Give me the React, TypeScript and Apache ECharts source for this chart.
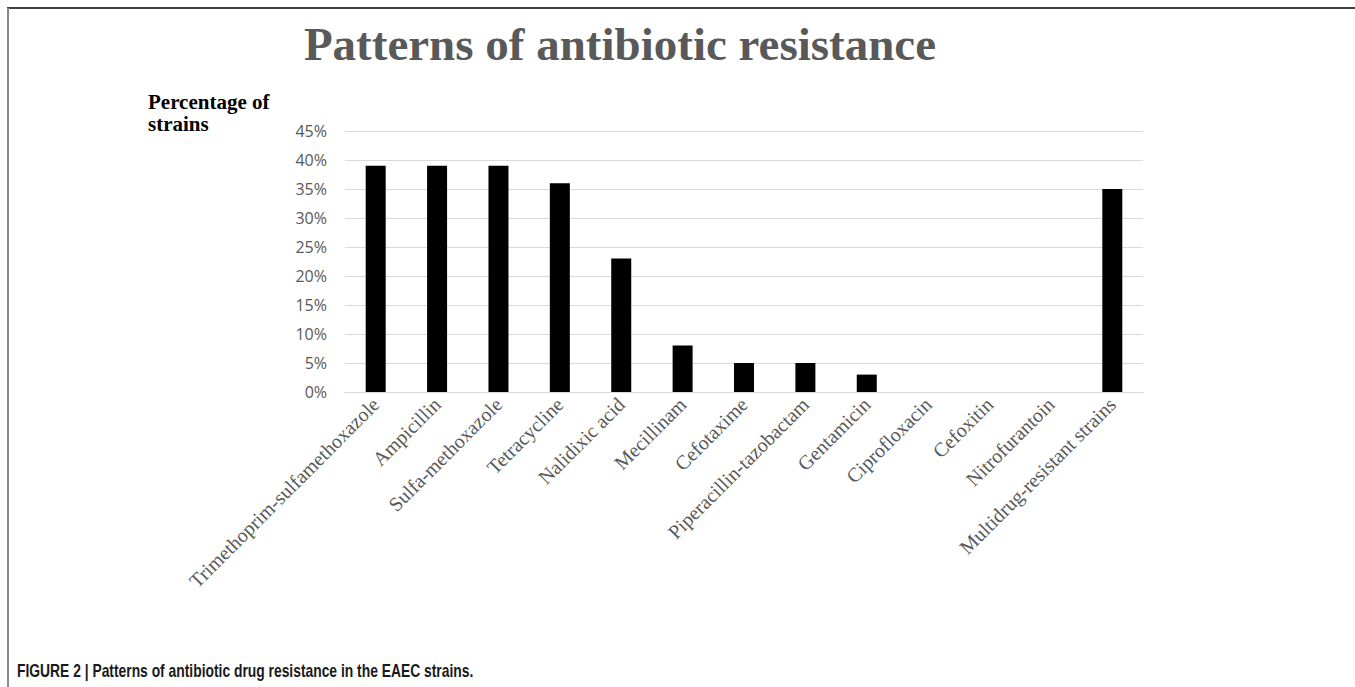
import React, { useEffect, useRef } from "react";
import * as echarts from "echarts";

const categories = [
  "Trimethoprim-sulfamethoxazole",
  "Ampicillin",
  "Sulfa-methoxazole",
  "Tetracycline",
  "Nalidixic acid",
  "Mecillinam",
  "Cefotaxime",
  "Piperacillin-tazobactam",
  "Gentamicin",
  "Ciprofloxacin",
  "Cefoxitin",
  "Nitrofurantoin",
  "Multidrug-resistant strains",
];
const resistance = [39, 39, 39, 36, 23, 8, 5, 5, 3, 0, 0, 0, 35];
const yMin = 0;
const yMax = 45;
const yStep = 5;

const titleText = "Patterns of antibiotic resistance";
const yAxisTitle = ["Percentage of", "strains"];
const captionText = "FIGURE 2 | Patterns of antibiotic drug resistance in the EAEC strains.";

export default function App() {
  const ref = useRef<HTMLDivElement>(null);
  useEffect(() => {
    if (!ref.current) return;
    const chart = echarts.init(ref.current, undefined, { renderer: "svg" });
    chart.setOption({
      animation: false,
      backgroundColor: "#ffffff",
      grid: { left: 345, right: 212, top: 131, bottom: 295, containLabel: false },
      xAxis: {
        type: "category",
        data: categories,
        axisTick: { show: false },
        axisLine: { lineStyle: { color: "#d9d9d9", width: 1 } },
        axisLabel: {
          interval: 0,
          rotate: 45,
          margin: 9,
          color: "#595959",
          fontFamily: "Liberation Serif",
          fontSize: 20,
        },
      },
      yAxis: {
        type: "value",
        min: yMin,
        max: yMax,
        interval: yStep,
        axisLine: { show: false },
        axisTick: { show: false },
        splitLine: { lineStyle: { color: "#d9d9d9", width: 1 } },
        axisLabel: {
          formatter: "{value}%",
          margin: 18,
          color: "#595959",
          fontFamily: "Open Sans",
          fontSize: 16,
        },
      },
      series: [
        {
          type: "bar",
          data: resistance,
          barWidth: 20,
          itemStyle: { color: "#000000" },
        },
      ],
      graphic: [
        {
          type: "line",
          shape: { x1: 7, y1: 8, x2: 1355, y2: 8 },
          style: { stroke: "#444444", lineWidth: 2 },
        },
        {
          type: "line",
          shape: { x1: 8, y1: 8, x2: 8, y2: 687 },
          style: { stroke: "#8a8a8a", lineWidth: 2 },
        },
        {
          type: "text",
          x: 620,
          y: 44,
          style: {
            text: titleText,
            textAlign: "center",
            textVerticalAlign: "middle",
            fill: "#595959",
            font: "bold 47px 'Liberation Serif'",
          },
        },
        {
          type: "text",
          x: 148,
          y: 102,
          style: {
            text: yAxisTitle[0],
            textAlign: "left",
            textVerticalAlign: "middle",
            fill: "#000000",
            font: "bold 21px 'Liberation Serif'",
          },
        },
        {
          type: "text",
          x: 148,
          y: 124,
          style: {
            text: yAxisTitle[1],
            textAlign: "left",
            textVerticalAlign: "middle",
            fill: "#000000",
            font: "bold 21px 'Liberation Serif'",
          },
        },
        {
          type: "text",
          x: 17,
          y: 670,
          scaleX: 0.77,
          style: {
            text: captionText,
            textAlign: "left",
            textVerticalAlign: "middle",
            fill: "#1a1a1a",
            font: "bold 18px 'Liberation Sans', sans-serif",
          },
        },
      ],
    });
    return () => chart.dispose();
  }, []);
  return (
    <div
      ref={ref}
      style={{ position: "fixed", left: 0, top: 0, width: 1355, height: 687 }}
    />
  );
}
